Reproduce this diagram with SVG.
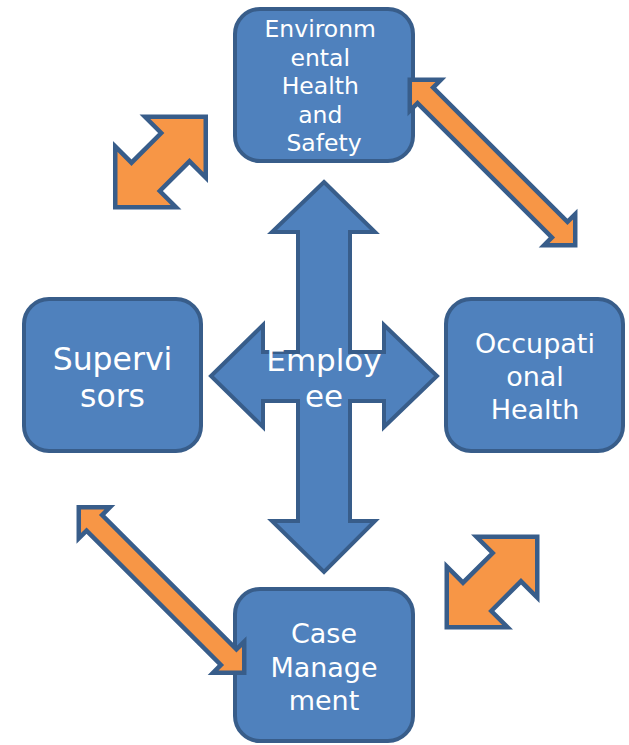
<svg xmlns="http://www.w3.org/2000/svg" xmlns:xlink="http://www.w3.org/1999/xlink" width="629" height="745" viewBox="0 0 629 745">
  <style>
    .box { fill: #4F81BD; stroke: #385D8A; stroke-width: 4; }
    .cross { fill: #4F81BD; stroke: #385D8A; stroke-width: 4; stroke-linejoin: miter; }
    .link { fill: #F79646; stroke: #385D8A; stroke-width: 4.5; stroke-linejoin: miter; }
    .lbl { fill: #FFFFFF; font-family: "DejaVu Sans", "Noto Sans", sans-serif; text-anchor: middle; }
  </style>
  <defs>
    <!-- short, fat double-headed block arrow (horizontal, centred on origin) -->
    <polygon id="stubby" points="64,0 21,43 21,20 -21,20 -21,43 -64,0 -21,-43 -21,-20 21,-20 21,-43"/>
    <!-- long, slim double-headed block arrow -->
    <polygon id="slim" points="117,0 95,22 95,11 -95,11 -95,22 -117,0 -95,-22 -95,-11 95,-11 95,-22"/>
  </defs>

  <!-- central four-way arrow with the employee label -->
  <g id="employee">
    <polygon class="cross" points="324,182 375,232 350,232 350,352 384,352 384,325 437,376 384,427 384,401 350,401 350,521 375,521 324,572 272,521 298,521 298,401 263,401 263,427 211,376 263,325 263,352 298,352 298,232 272,232"/>
    <text class="lbl" font-size="31"><tspan x="324" y="371">Employ</tspan><tspan x="324" y="407">ee</tspan></text>
  </g>

  <g id="ehs">
    <rect class="box" x="235" y="9" width="178" height="152" rx="25"/>
    <text class="lbl" font-size="23.5">
      <tspan x="324" y="37">Environm</tspan>
      <tspan x="324" y="65.5">ental</tspan>
      <tspan x="324" y="94">Health</tspan>
      <tspan x="324" y="122.5">and</tspan>
      <tspan x="324" y="151">Safety</tspan>
    </text>
  </g>

  <g id="supervisors">
    <rect class="box" x="24" y="299" width="177" height="152" rx="25"/>
    <text class="lbl" font-size="31.5"><tspan x="112.5" y="370">Supervi</tspan><tspan x="112.5" y="407">sors</tspan></text>
  </g>

  <g id="occupational-health">
    <rect class="box" x="446" y="299" width="177" height="152" rx="25"/>
    <text class="lbl" font-size="27"><tspan x="535" y="353">Occupati</tspan><tspan x="535" y="386">onal</tspan><tspan x="535" y="419">Health</tspan></text>
  </g>

  <g id="case-management">
    <rect class="box" x="235" y="589" width="178" height="152" rx="25"/>
    <text class="lbl" font-size="27"><tspan x="324" y="643">Case</tspan><tspan x="324" y="677">Manage</tspan><tspan x="324" y="710">ment</tspan></text>
  </g>

  <!-- two-way links between the outer units -->
  <g id="connectors">
    <use xlink:href="#stubby" class="link" transform="translate(160.5,162) rotate(-45)"/>
    <use xlink:href="#stubby" class="link" transform="translate(492,582) rotate(-45)"/>
    <use xlink:href="#slim" class="link" transform="translate(492.5,162.5) rotate(45)"/>
    <use xlink:href="#slim" class="link" transform="translate(161.5,590) rotate(45)"/>
  </g>
</svg>
